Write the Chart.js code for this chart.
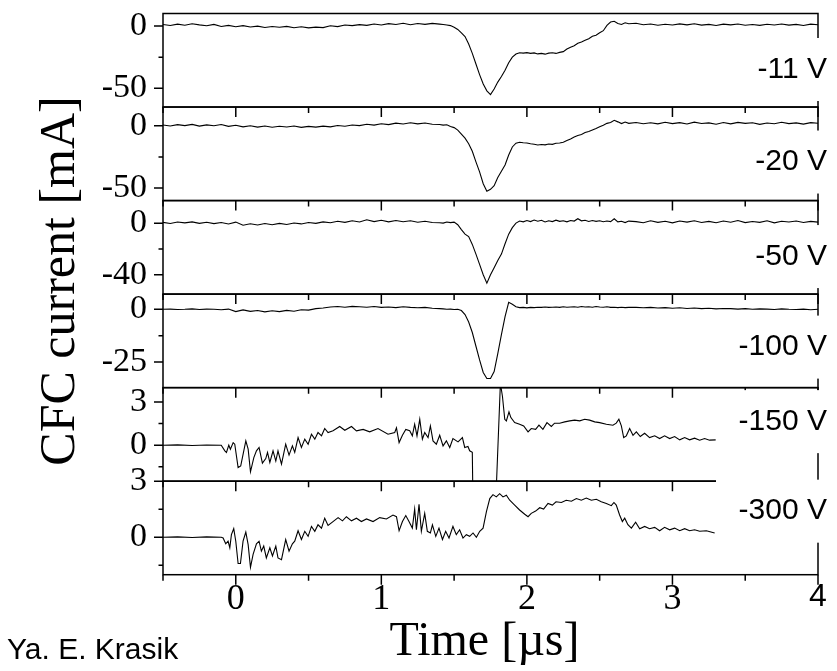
<!DOCTYPE html>
<html>
<head>
<meta charset="utf-8">
<title>CFC current vs time</title>
<script src="https://cdn.jsdelivr.net/npm/chart.js@4.4.1/dist/chart.umd.min.js"></script>
<style>
  html, body { margin: 0; padding: 0; background: #fff; }
  #wrap { width: 837px; height: 671px; }
</style>
</head>
<body>
<div id="wrap"><canvas id="cfc" width="837" height="671"></canvas></div>
<script>
// bias voltage of each panel, top to bottom
const panelLabels = ["-11 V", "-20 V", "-50 V", "-100 V", "-150 V", "-300 V"];

// y ranges and ticks per panel [mA]
const yMin = [-65, -60, -55, -37.1, -2.5, -2];
const yMax = [10, 15, 17.5, 7.2, 4, 3];
const yMajor = [[-50, 0], [-50, 0], [-40, 0], [-25, 0], [0, 3], [0, 3]];
const yMinor = [[-25], [-25], [-20], [-12.5], [-1.5, 1.5], [-1.5, 1.5]];

// time axis [us]
const xMajor = [0, 1, 2, 3, 4];
const xMinor = [-0.5, 0.5, 1.5, 2.5, 3.5];

// sample times shared by the -11 V ... -100 V traces
const timeA = [
  -0.50, -0.45, -0.40, -0.35, -0.30, -0.25, -0.20, -0.15, -0.10, -0.05,
  0.00, 0.05, 0.10, 0.15, 0.20, 0.25, 0.30, 0.35, 0.40, 0.45,
  0.50, 0.55, 0.60, 0.65, 0.70, 0.75, 0.80, 0.85, 0.90, 0.95,
  1.00, 1.05, 1.10, 1.15, 1.20, 1.25, 1.30, 1.35, 1.40,
  1.425, 1.45, 1.475, 1.50, 1.525, 1.55, 1.575, 1.60, 1.625, 1.65,
  1.675, 1.70, 1.725, 1.75, 1.775, 1.80, 1.825, 1.85, 1.875, 1.90,
  1.925, 1.95, 1.975, 2.00, 2.025, 2.05, 2.075, 2.10, 2.125, 2.15,
  2.175, 2.20, 2.225, 2.25, 2.275, 2.30, 2.325, 2.35, 2.375, 2.40,
  2.425, 2.45, 2.475, 2.50, 2.525, 2.55, 2.575, 2.60, 2.625, 2.65,
  2.675, 2.70,
  2.75, 2.80, 2.85, 2.90, 2.95, 3.00, 3.05, 3.10, 3.15, 3.20,
  3.25, 3.30, 3.35, 3.40, 3.45, 3.50, 3.55, 3.60, 3.65, 3.70,
  3.75, 3.80, 3.85, 3.90, 3.95, 4.00
];

const cur11 = [
  1.2, 0.4, 1.5, 0.6, 1.8, 0.9, 0.2, 1.3, -0.4, 0.5,
  -0.6, 0.3, -0.8, -0.1, -1.2, -0.4, -1.0, -0.3, -1.4, -0.6,
  -1.5, -0.9, -1.3, 0.2, -0.5, 0.8, 0.3, 1.1, 0.5, 1.6,
  0.8, 1.9, 1.2, 2.2, 1.0, 2.0, 1.3, 2.1, 1.5,
  1.2, 0.8, 0.3, -1.0, -2.8, -5.5, -8.5, -14.5, -22.0, -30.5,
  -39.0, -46.5, -52.0, -55.0, -50.5, -45.0, -40.5, -35.5, -29.5, -25.0,
  -22.5, -21.5, -21.8, -21.4, -22.0, -21.6, -22.4, -22.0, -22.6, -21.8,
  -21.5, -22.0, -21.2, -20.6, -18.5, -17.0, -15.8, -13.9, -12.8, -11.5,
  -10.2, -8.2, -7.4, -5.5, -3.8, 0.5, 3.2, 3.8, 2.0, 1.2,
  2.6, 1.8,
  2.2, 1.0, 1.6, 0.6, 1.4, 0.8, 1.7, 0.9, 1.8, 0.7,
  1.3, 0.4, 1.5, 0.9, 1.6, 0.6, 1.2, 0.5, 1.4, 0.8,
  1.6, 0.7, 1.3, 0.4, 1.5, 1.0
];

const cur20 = [
  0.6, -0.2, 0.9, 0.1, 1.1, -0.3, 0.7, 0.0, 1.0, -0.5,
  0.4, -0.9, 0.0, -1.1, -0.2, -1.2, -0.4, -1.0, -0.2, -1.3,
  -0.5, -1.1, -0.3, -0.9, 0.2, -0.4, 0.6, 0.1, 1.2, 0.5,
  1.6, 0.9, 2.1, 1.4, 2.4, 1.5, 2.2, 1.2, 1.0,
  0.5, 0.8, -0.6, -1.5, -3.5, -6.8, -10.0, -14.5, -20.5, -29.0,
  -37.0, -46.5, -52.5, -51.0, -48.0, -41.5, -36.5, -31.5, -23.5, -17.0,
  -14.0, -13.2, -13.6, -13.9, -14.5, -14.8, -15.4, -15.0, -15.3, -14.6,
  -14.9, -14.1, -13.8, -13.2, -11.8, -10.6, -9.0, -7.9, -7.0, -5.5,
  -4.6, -3.4, -2.2, -0.8, 0.4, 1.9, 2.6, 4.4, 3.1, 1.7,
  3.0, 1.9,
  2.6, 1.6, 2.4, 1.5, 2.8, 1.7, 2.5, 1.4, 2.9, 1.8,
  2.3, 1.2, 2.6, 1.5, 2.7, 1.9, 2.4, 1.1, 2.2, 1.6,
  2.8, 1.7, 2.3, 1.3, 2.5, 2.0
];

const cur50 = [
  0.6, -0.3, 0.9, 0.2, 1.0, -0.2, 0.7, -0.4, 0.5, -0.6,
  0.8, -1.6, -0.5, -1.4, -0.3, -1.2, -0.2, -1.0, 0.1, -0.6,
  0.5, -0.2, 1.0, 0.3, 1.5, 0.6, 1.8, 0.9, 2.6, 1.2,
  2.2, 1.0, 2.0, 1.1, 1.8, 0.7, 1.5, 0.5, 0.3,
  0.0, 0.9, 0.4, 0.8, -1.2, -5.0, -8.5, -10.4, -16.5, -24.0,
  -32.0, -40.0, -46.5, -40.0, -34.5, -29.0, -24.0, -16.0, -8.5, -3.5,
  0.0, 1.6, 1.0, 2.0, 1.2, 2.4, 1.5, 2.2, 0.9, 1.8,
  1.2, 2.3, 1.4, 1.9, 1.0, 2.0, 1.6, 3.4, 1.8, 2.2,
  1.3, 2.0, 1.4, 1.8, 1.1, 1.6, 1.2, 3.4, 1.0, 1.5,
  0.4, 1.6,
  1.2, 0.3, 1.8, 0.6, 1.5, 0.2, 1.7, 0.8, 1.9, 0.5,
  1.4, 0.3, 1.6, 0.7, 2.0, 0.4, 1.3, 0.6, 1.8, 0.2,
  1.5, 0.9, 1.7, 0.5, 1.4, 0.8
];

const cur100 = [
  0.0, 0.1, -0.1, 0.0, 0.2, -0.1, 0.1, 0.0, -0.2, 0.1,
  -1.1, -0.3, -1.0, -0.6, -1.2, -0.7, -1.1, -0.5, -0.9, -0.2,
  -0.4, 0.3, 0.6, 1.1, 1.3, 1.0, 1.4, 1.2, 1.0, 1.3,
  0.9, 1.1, 0.8, 1.2, 0.9, 0.7, 0.9, 0.5, 0.3,
  0.2, 0.0, 0.1, -0.1, 0.0, -0.6, -2.5, -6.0, -11.0, -17.5,
  -24.0, -29.9, -32.8, -32.8, -29.5, -21.0, -12.0, -3.5, 3.3, 2.4,
  1.2, 0.8, 0.9, 0.7, 0.9, 0.8, 1.0, 0.9, 1.1, 0.9,
  1.0, 1.1, 0.9, 1.2, 1.0, 1.1, 1.2, 1.0, 1.3, 1.1,
  1.2, 1.0, 1.3, 1.1, 1.0, 1.2, 0.9, 1.0, 0.8, 1.0,
  0.8, 0.9,
  0.9, 0.7, 0.9, 0.6, 0.8, 0.5, 0.7, 0.4, 0.6, 0.3,
  0.5, 0.2, 0.4, 0.3, 0.1, 0.3, 0.0, 0.2, 0.1, -0.1,
  0.2, 0.0, -0.1, 0.1, -0.2, 0.0
];

// -150 V trace
const time150 = [
  -0.50, -0.40, -0.30, -0.20, -0.10, -0.075, -0.064, -0.048, -0.037, -0.018,
  -0.007, 0.016, 0.034, 0.069, 0.085, 0.101, 0.124, 0.142, 0.160, 0.183,
  0.206, 0.218, 0.234, 0.256, 0.275, 0.290, 0.314, 0.343, 0.366, 0.389,
  0.405, 0.428, 0.451, 0.474, 0.497, 0.520, 0.543, 0.565, 0.589, 0.611,
  0.634, 0.668, 0.714, 0.749, 0.795, 0.829, 0.875, 0.920, 0.977, 1.046,
  1.092, 1.104, 1.122, 1.145, 1.168, 1.195, 1.213, 1.229, 1.245, 1.264,
  1.282, 1.298, 1.321, 1.337, 1.355, 1.378, 1.401, 1.424, 1.447, 1.470,
  1.492, 1.527, 1.557, 1.573, 1.595, 1.607, 1.625, 1.640, 1.700, 1.755,
  1.818, 1.832, 1.848, 1.859, 1.877, 1.890, 1.916, 1.950, 1.978, 2.008,
  2.030, 2.060, 2.083, 2.110, 2.138, 2.168, 2.190, 2.225, 2.260, 2.294,
  2.328, 2.363, 2.397, 2.431, 2.466, 2.500, 2.546, 2.591, 2.614, 2.632,
  2.649, 2.665, 2.683, 2.706, 2.729, 2.752, 2.779, 2.809, 2.843, 2.878,
  2.912, 2.946, 2.981, 3.015, 3.050, 3.084, 3.118, 3.152, 3.187, 3.221,
  3.255, 3.297
];
const cur150 = [
  0.00, 0.02, -0.02, 0.01, 0.00, -0.39, -0.50, 0.00, -0.28, 0.18,
  0.07, -1.55, -1.44, 0.30, -0.28, -1.85, -0.86, -0.39, -0.16, -1.25,
  -0.93, -0.50, -1.20, -0.39, -1.10, -0.39, -1.32, 0.07, -0.69, -0.05,
  -0.50, 0.53, -0.16, 0.42, 0.07, 0.76, 0.42, 0.88, 0.65, 1.16,
  0.88, 1.00, 1.30, 1.04, 1.30, 1.00, 1.10, 0.93, 1.16, 0.76,
  0.88, 1.20, 0.18, 0.69, 1.10, 1.00, 0.65, 1.46, 0.65, 1.80,
  0.42, 0.88, 0.53, 1.34, 0.30, 0.07, 0.69, -0.05, 0.30, -0.16,
  0.46, 0.23, 0.53, -0.16, -0.09, -0.39, -0.50, -12.0, -14.0, -12.0,
  4.30, 3.40, 1.80, 1.69, 2.31, 1.92, 1.57, 1.46, 1.34, 0.93,
  1.16, 1.10, 1.39, 1.10, 1.57, 1.30, 1.53, 1.53, 1.62, 1.69,
  1.74, 1.69, 1.80, 1.74, 1.62, 1.57, 1.46, 1.39, 1.53, 1.80,
  1.34, 0.53, 0.65, 1.16, 0.69, 0.93, 0.60, 0.83, 0.53, 0.65,
  0.46, 0.65, 0.46, 0.60, 0.37, 0.53, 0.37, 0.49, 0.35, 0.46,
  0.35, 0.37
];

// -300 V trace
const time300 = [
  -0.50, -0.40, -0.30, -0.20, -0.10, -0.087, -0.069, -0.053, -0.041, -0.030,
  -0.014, 0.000, 0.016, 0.032, 0.050, 0.069, 0.085, 0.101, 0.119, 0.142,
  0.160, 0.176, 0.192, 0.210, 0.234, 0.252, 0.275, 0.290, 0.314, 0.343,
  0.366, 0.389, 0.405, 0.428, 0.451, 0.474, 0.497, 0.520, 0.543, 0.565,
  0.589, 0.611, 0.634, 0.668, 0.703, 0.733, 0.760, 0.795, 0.829, 0.863,
  0.898, 0.943, 0.989, 1.035, 1.080, 1.104, 1.122, 1.145, 1.168, 1.190,
  1.213, 1.229, 1.241, 1.259, 1.275, 1.298, 1.316, 1.337, 1.351, 1.374,
  1.396, 1.420, 1.442, 1.465, 1.492, 1.515, 1.538, 1.561, 1.584, 1.607,
  1.630, 1.653, 1.676, 1.699, 1.722, 1.745, 1.767, 1.790, 1.813, 1.836,
  1.859, 1.882, 1.916, 1.950, 1.985, 2.008, 2.030, 2.060, 2.088, 2.115,
  2.145, 2.175, 2.200, 2.237, 2.270, 2.306, 2.340, 2.374, 2.408, 2.443,
  2.477, 2.511, 2.546, 2.580, 2.598, 2.614, 2.637, 2.656, 2.672, 2.694,
  2.718, 2.747, 2.775, 2.809, 2.843, 2.878, 2.912, 2.946, 2.981, 3.015,
  3.050, 3.084, 3.118, 3.152, 3.187, 3.233, 3.290
];
const cur300 = [
  0.00, 0.02, -0.01, 0.02, 0.00, -0.04, -0.35, -0.21, -0.56, 0.14,
  0.46, -0.21, -1.40, -1.40, -0.21, 0.28, -0.39, -1.61, -0.91, -0.35,
  -0.21, -0.74, -0.47, -1.10, -0.56, -1.00, -0.47, -1.10, -1.20, -0.12,
  -0.74, -0.35, -0.21, 0.35, -0.12, 0.32, 0.05, 0.58, 0.32, 0.67,
  0.49, 1.02, 0.63, 0.84, 1.05, 0.88, 1.10, 0.88, 1.02, 0.84,
  0.98, 0.84, 1.05, 0.98, 1.19, 1.10, 0.35, 0.84, 1.16, 0.84,
  0.49, 1.51, 0.40, 1.76, 0.32, 1.28, 0.32, 0.23, 0.67, 0.05,
  0.49, -0.12, 0.32, -0.04, 0.58, 0.14, 0.40, -0.04, 0.14, 0.05,
  0.23, 0.00, 0.32, 0.49, 1.37, 2.07, 2.28, 2.16, 2.33, 2.16,
  2.25, 1.98, 1.72, 1.46, 1.23, 1.10, 1.28, 1.40, 1.58, 1.51,
  1.81, 1.72, 1.90, 1.86, 1.98, 1.93, 2.07, 1.98, 2.10, 1.98,
  2.03, 1.90, 1.81, 1.69, 1.86, 1.72, 1.19, 0.84, 1.02, 0.67,
  0.49, 0.81, 0.46, 0.58, 0.46, 0.53, 0.35, 0.53, 0.40, 0.49,
  0.35, 0.46, 0.35, 0.40, 0.32, 0.35, 0.23
];

const serif = '"Liberation Serif", "Times New Roman", serif';
const sans = '"Liberation Sans", Arial, sans-serif';
const panelIds = ["y1", "y2", "y3", "y4", "y5", "y6"];

// label placement inside each panel (px below the panel top) and white box left edge
const labelDy = [56, 55, 56, 53, 34, 30];
const labelBoxLeft = [746, 746, 746, 725, 722, 716];

const traces = [
  { t: timeA, v: cur11 },
  { t: timeA, v: cur20 },
  { t: timeA, v: cur50 },
  { t: timeA, v: cur100 },
  { t: time150, v: cur150 },
  { t: time300, v: cur300 },
];

// frames, ticks, panel clipping and the free texts
const panelFrame = {
  id: "panelFrame",
  beforeDatasetDraw(chart, args) {
    const ys = chart.scales[args.meta.yAxisID];
    const a = chart.chartArea;
    const ctx = chart.ctx;
    ctx.save();
    ctx.beginPath();
    ctx.rect(a.left, ys.top, a.right - a.left, ys.bottom - ys.top);
    ctx.clip();
  },
  afterDatasetDraw(chart) {
    chart.ctx.restore();
  },
  afterDraw(chart) {
    const ctx = chart.ctx;
    const a = chart.chartArea;
    const xs = chart.scales.x;
    ctx.save();
    ctx.strokeStyle = "#000";
    ctx.lineWidth = 1.5;
    panelIds.forEach((id, i) => {
      const ys = chart.scales[id];
      ctx.strokeRect(a.left, ys.top, a.right - a.left, ys.bottom - ys.top);
      ctx.beginPath();
      yMajor[i].forEach((v) => {
        const y = ys.getPixelForValue(v);
        ctx.moveTo(a.left - 9, y);
        ctx.lineTo(a.left, y);
      });
      yMinor[i].forEach((v) => {
        const y = ys.getPixelForValue(v);
        ctx.moveTo(a.left - 4.5, y);
        ctx.lineTo(a.left, y);
      });
      xMajor.forEach((v) => {
        const x = xs.getPixelForValue(v);
        ctx.moveTo(x, ys.bottom);
        ctx.lineTo(x, ys.bottom + 10);
      });
      xMinor.forEach((v) => {
        const x = xs.getPixelForValue(v);
        ctx.moveTo(x, ys.bottom);
        ctx.lineTo(x, ys.bottom + 6);
      });
      ctx.stroke();
    });

    // voltage labels on white boxes (they hide the right frame)
    ctx.font = "30px " + sans;
    ctx.textAlign = "right";
    ctx.textBaseline = "middle";
    panelIds.forEach((id, i) => {
      const cy = chart.scales[id].top + labelDy[i];
      ctx.fillStyle = "#fff";
      ctx.fillRect(labelBoxLeft[i], cy - 31.5, 837 - labelBoxLeft[i], 63);
      ctx.fillStyle = "#000";
      ctx.fillText(panelLabels[i], 827, cy);
    });

    // y title
    ctx.save();
    ctx.translate(61, 281);
    ctx.rotate(-Math.PI / 2);
    ctx.font = "50px " + serif;
    ctx.textAlign = "center";
    ctx.textBaseline = "middle";
    ctx.fillText("CFC current [mA]", 0, 0);
    ctx.restore();

    ctx.font = "30px " + sans;
    ctx.textAlign = "left";
    ctx.textBaseline = "alphabetic";
    ctx.fillText("Ya. E. Krasik", 7, 659);
    ctx.restore();
  },
};

const scales = {
  x: {
    type: "linear",
    position: "bottom",
    min: -0.5,
    max: 4,
    grid: { display: false, drawTicks: false },
    border: { display: false },
    afterBuildTicks: (s) => {
      s.ticks = xMajor.map((v) => ({ value: v }));
    },
    afterFit: (s) => {
      s.height = 96.3;
      s.paddingLeft = 0;
      s.paddingRight = 0;
    },
    ticks: {
      autoSkip: false,
      maxRotation: 0,
      padding: 3,
      color: "#000",
      font: (c) =>
        c.tick && c.tick.value === 4
          ? { family: sans, size: 32 }
          : { family: serif, size: 36 },
      callback: (v) => String(v),
    },
    title: {
      display: true,
      text: "Time [µs]\u00a0",
      color: "#000",
      font: { family: serif, size: 48 },
      padding: { top: 0, bottom: 0 },
    },
  },
};

panelIds.forEach((id, i) => {
  scales[id] = {
    type: "linear",
    position: "left",
    stack: "panels",
    stackWeight: 1,
    weight: 6 - i,
    min: yMin[i],
    max: yMax[i],
    grid: { display: false, drawTicks: false },
    border: { display: false },
    afterBuildTicks: (s) => {
      s.ticks = yMajor[i].map((v) => ({ value: v }));
    },
    afterFit: (s) => {
      s.width = 163;
      s.paddingTop = 0;
      s.paddingBottom = 0;
    },
    ticks: {
      padding: 16,
      color: "#000",
      font: { family: serif, size: 34 },
      callback: (v) => String(v),
    },
  };
});

new Chart(document.getElementById("cfc"), {
  type: "line",
  data: {
    datasets: traces.map((tr, i) => ({
      label: panelLabels[i],
      data: tr.t.map((t, k) => ({ x: t, y: tr.v[k] })),
      yAxisID: panelIds[i],
      borderColor: "#000",
      borderWidth: 1.1,
      pointRadius: 0,
      tension: 0,
      fill: false,
    })),
  },
  options: {
    responsive: false,
    animation: false,
    devicePixelRatio: 1,
    layout: { padding: { top: 13.5, right: 19, bottom: 0, left: 0 } },
    plugins: {
      legend: { display: false },
      tooltip: { enabled: false },
    },
    scales: scales,
  },
  plugins: [panelFrame],
});
</script>
</body>
</html>
